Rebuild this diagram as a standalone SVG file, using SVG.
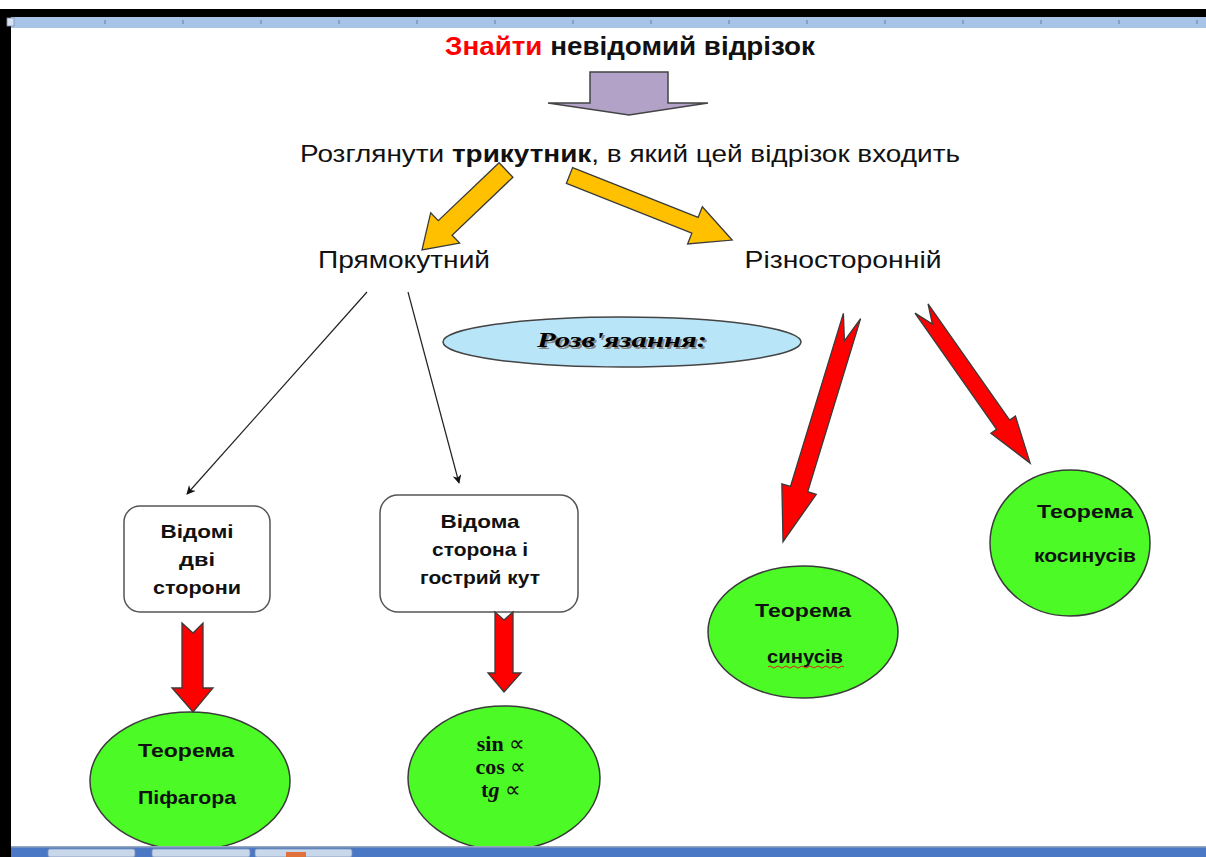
<svg xmlns="http://www.w3.org/2000/svg" width="1206" height="857" viewBox="0 0 1206 857">
<style>
.t{font-family:"Liberation Sans",Arial,sans-serif;fill:#111}
.b{font-weight:bold}
.m{font-family:"Liberation Serif","Times New Roman",serif;font-weight:bold;fill:#111}
.yel{fill:#ffc000;stroke:#3a3a3a;stroke-width:1.3}
.red{fill:#ff0000;stroke:#3a3a3a;stroke-width:1.3}
.grn{fill:#4cfb26;stroke:#3a3a3a;stroke-width:1.5}
.box{fill:#fff;stroke:#555;stroke-width:1.5}
.thin{stroke:#222;stroke-width:1.2;fill:none}
</style>
<defs>
<marker id="ah" viewBox="0 0 10 10" refX="9" refY="5" markerWidth="9" markerHeight="9" markerUnits="userSpaceOnUse" orient="auto">
<path d="M0,0 L10,5 L0,10 L3,5 z" fill="#111"/>
</marker>
</defs>
<rect x="0" y="0" width="1206" height="857" fill="#fff"/>
<g id="frame">
<rect x="0" y="9" width="1206" height="8" fill="#000"/>
<rect x="0" y="17" width="1206" height="11" fill="#a7c3e8"/>
<rect x="0" y="9" width="11" height="848" fill="#000"/>
<rect x="7" y="18" width="7" height="8" fill="#d8e2f0" stroke="#7a8fae" stroke-width="0.8"/>
<g stroke="#6d7f99" stroke-width="1">
<line x1="105" y1="20" x2="105" y2="24"/><line x1="183" y1="20" x2="183" y2="24"/><line x1="261" y1="20" x2="261" y2="24"/><line x1="339" y1="20" x2="339" y2="24"/><line x1="417" y1="20" x2="417" y2="24"/><line x1="495" y1="20" x2="495" y2="24"/><line x1="573" y1="20" x2="573" y2="24"/><line x1="651" y1="20" x2="651" y2="24"/><line x1="729" y1="20" x2="729" y2="24"/><line x1="807" y1="20" x2="807" y2="24"/><line x1="885" y1="20" x2="885" y2="24"/><line x1="963" y1="20" x2="963" y2="24"/><line x1="1041" y1="20" x2="1041" y2="24"/><line x1="1119" y1="20" x2="1119" y2="24"/><line x1="1197" y1="20" x2="1197" y2="24"/>
</g>
</g>
<g id="title">
<text x="630" y="55" text-anchor="middle" class="t b" font-size="25" textLength="370" lengthAdjust="spacingAndGlyphs"><tspan fill="#ff0000">Знайти</tspan> невідомий відрізок</text>
</g>
<g id="purple-arrow">
<polygon points="590,72 668,72 668,103 708,103 629,115 548,103 590,103" fill="#b3a2c7" stroke="#444" stroke-width="1.5"/>
</g>
<g id="consider">
<text x="630" y="162" text-anchor="middle" class="t" font-size="24" textLength="660" lengthAdjust="spacingAndGlyphs">Розглянути <tspan font-weight="bold">трикутник</tspan>, в який цей відрізок входить</text>
</g>
<g id="right-triangle">
<text x="404" y="268" text-anchor="middle" class="t" font-size="24" textLength="172" lengthAdjust="spacingAndGlyphs">Прямокутний</text>
</g>
<g id="scalene">
<text x="843" y="268" text-anchor="middle" class="t" font-size="24" textLength="197" lengthAdjust="spacingAndGlyphs">Різносторонній</text>
</g>
<g id="solution">
<ellipse cx="622" cy="342" rx="179" ry="25" fill="#b9e5f9" stroke="#444" stroke-width="1.5"/>
<text x="624" y="349" text-anchor="middle" font-family="'Liberation Serif',serif" font-weight="bold" font-style="italic" font-size="20" fill="#888" textLength="170" lengthAdjust="spacingAndGlyphs">Розв'язання:</text>
<text x="622" y="347" text-anchor="middle" font-family="'Liberation Serif',serif" font-weight="bold" font-style="italic" font-size="20" fill="#000" textLength="170" lengthAdjust="spacingAndGlyphs">Розв'язання:</text>
</g>
<g id="box1">
<rect x="124" y="506" width="146" height="106" rx="16" class="box"/>
<text x="197" y="538" text-anchor="middle" class="t b" font-size="19" textLength="73" lengthAdjust="spacingAndGlyphs">Відомі</text>
<text x="197" y="566" text-anchor="middle" class="t b" font-size="19" textLength="36" lengthAdjust="spacingAndGlyphs">дві</text>
<text x="197" y="594" text-anchor="middle" class="t b" font-size="19" textLength="88" lengthAdjust="spacingAndGlyphs">сторони</text>
</g>
<g id="box2">
<rect x="380" y="495" width="198" height="117" rx="18" class="box"/>
<text x="480" y="528" text-anchor="middle" class="t b" font-size="19" textLength="79" lengthAdjust="spacingAndGlyphs">Відома</text>
<text x="480" y="556" text-anchor="middle" class="t b" font-size="19" textLength="96" lengthAdjust="spacingAndGlyphs">сторона і</text>
<text x="480" y="584" text-anchor="middle" class="t b" font-size="19" textLength="120" lengthAdjust="spacingAndGlyphs">гострий кут</text>
</g>
<g id="pythagoras">
<ellipse cx="190" cy="781" rx="100" ry="69" class="grn"/>
<text x="186" y="757" text-anchor="middle" class="t b" font-size="19" textLength="96" lengthAdjust="spacingAndGlyphs">Теорема</text>
<text x="187" y="804" text-anchor="middle" class="t b" font-size="19" textLength="98" lengthAdjust="spacingAndGlyphs">Піфагора</text>
</g>
<g id="trig">
<ellipse cx="504" cy="778" rx="96" ry="72" class="grn"/>
<text x="501" y="751" text-anchor="middle" class="m" font-size="22">sin <tspan font-weight="normal">∝</tspan></text>
<text x="501" y="774" text-anchor="middle" class="m" font-size="22">cos <tspan font-weight="normal">∝</tspan></text>
<text x="501" y="797" text-anchor="middle" class="m" font-size="22">t<tspan font-style="italic">g</tspan> <tspan font-weight="normal">∝</tspan></text>
</g>
<g id="sines">
<ellipse cx="803" cy="632" rx="95" ry="66" class="grn"/>
<text x="803" y="617" text-anchor="middle" class="t b" font-size="19" textLength="96" lengthAdjust="spacingAndGlyphs">Теорема</text>
<text x="805" y="663" text-anchor="middle" class="t b" font-size="19" textLength="76" lengthAdjust="spacingAndGlyphs">синусів</text>
<path d="M768,667 q2,-2 4,0 t4,0 t4,0 t4,0 t4,0 t4,0 t4,0 t4,0 t4,0 t4,0 t4,0 t4,0 t4,0 t4,0 t4,0 t4,0 t4,0 t4,0 t4,0" fill="none" stroke="#e02020" stroke-width="1"/>
</g>
<g id="cosines">
<ellipse cx="1070" cy="543" rx="80" ry="73" class="grn"/>
<text x="1085" y="518" text-anchor="middle" class="t b" font-size="19" textLength="96" lengthAdjust="spacingAndGlyphs">Теорема</text>
<text x="1085" y="562" text-anchor="middle" class="t b" font-size="19" textLength="102" lengthAdjust="spacingAndGlyphs">косинусів</text>
</g>
<g id="connectors">
<polygon class="yel" transform="translate(506,170) rotate(136.4)" points="0,-10 84,-10 84,-21 116,0 84,21 84,10 0,10"/>
<polygon class="yel" transform="translate(569.5,175.5) rotate(21.65)" points="0,-8.5 135,-8.5 135,-20 175,0 135,20 135,8.5 0,8.5"/>
<line x1="367" y1="292" x2="187" y2="494" class="thin" marker-end="url(#ah)"/>
<line x1="408" y1="292" x2="459" y2="483" class="thin" marker-end="url(#ah)"/>
<polygon class="red" points="182,623 193,633 203,623 203,688 213,688 193,712 172,688 182,688"/>
<polygon class="red" points="495,612 504,620 513,612 513,673 521,673 504,692 488,673 495,673"/>
<polygon class="red" transform="translate(852,316) rotate(107)" points="0,-9 181,-9 181,-18 236,0 181,18 181,9 0,9 26,0"/>
<polygon class="red" transform="translate(921.5,308.5) rotate(54.9)" points="0,-8 142,-8 142,-15 189,0 142,15 142,8 0,8 19,0"/>
</g>
<g id="taskbar">
<rect x="11" y="847" width="1195" height="10" fill="#4a78c4"/>
<rect x="11" y="846" width="1195" height="1.5" fill="#9aa8bb"/>
<rect x="48" y="849" width="87" height="8" rx="2" fill="#c9d7ea" stroke="#7f95b8" stroke-width="0.8"/>
<rect x="152" y="849" width="98" height="8" rx="2" fill="#c9d7ea" stroke="#7f95b8" stroke-width="0.8"/>
<rect x="255" y="849" width="97" height="8" rx="2" fill="#c9d7ea" stroke="#7f95b8" stroke-width="0.8"/>
<rect x="286" y="852" width="20" height="5" fill="#e0713a"/>
</g>
</svg>
